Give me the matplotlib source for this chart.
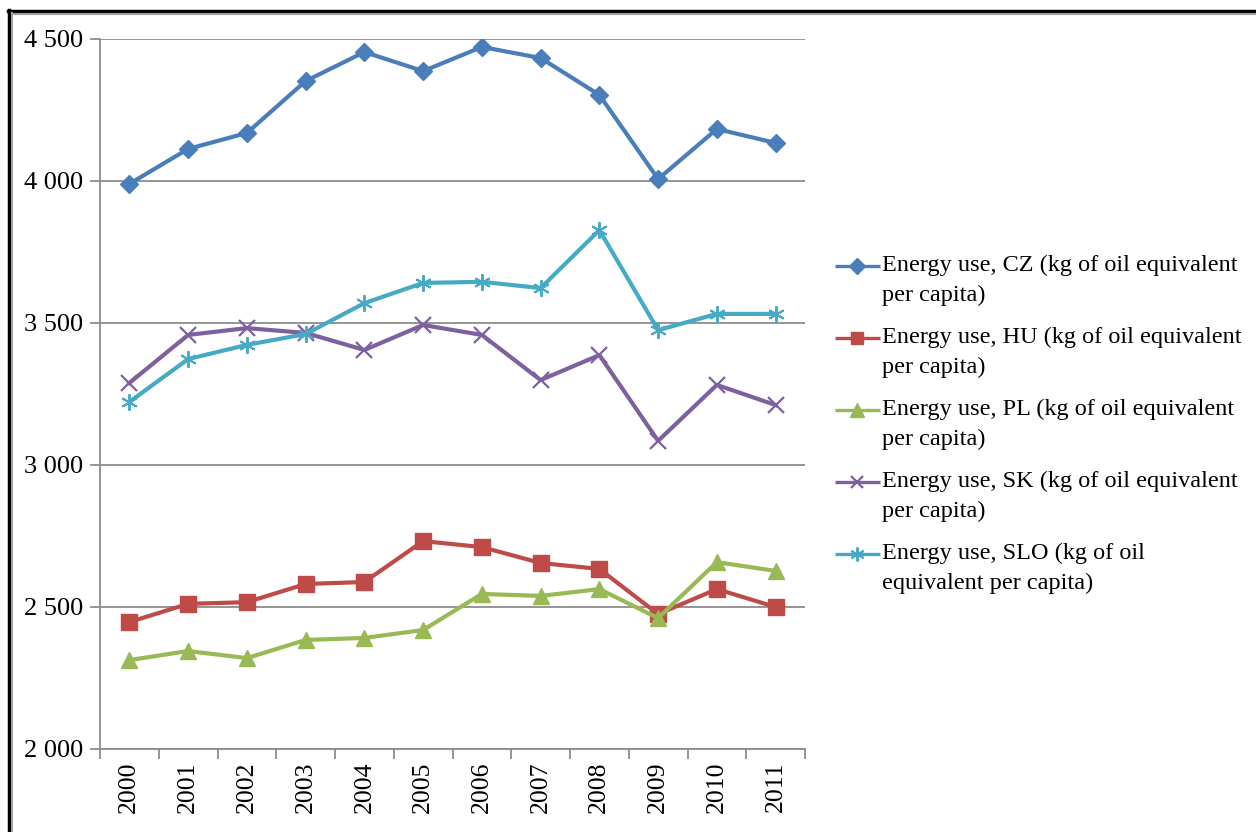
import matplotlib.pyplot as plt
from matplotlib.lines import Line2D
from matplotlib.ticker import FuncFormatter

plt.rcParams['font.family'] = ['Liberation Serif', 'DejaVu Serif']

years = ['2000', '2001', '2002', '2003', '2004', '2005',
         '2006', '2007', '2008', '2009', '2010', '2011']
cz = [3990, 4113, 4169, 4352, 4454, 4387, 4472, 4433, 4303, 4007, 4183, 4134]
hu = [2447, 2511, 2517, 2581, 2588, 2732, 2711, 2655, 2634, 2475, 2563, 2500]
pl = [2313, 2345, 2320, 2384, 2391, 2419, 2546, 2539, 2563, 2461, 2658, 2627]
sk = [3289, 3458, 3482, 3465, 3405, 3493, 3458, 3299, 3387, 3085, 3282, 3211]
slo = [3222, 3373, 3423, 3461, 3570, 3641, 3645, 3623, 3827, 3475, 3532, 3532]

labels = ['Energy use, CZ (kg of oil equivalent\nper capita)',
          'Energy use, HU (kg of oil equivalent\nper capita)',
          'Energy use, PL (kg of oil equivalent\nper capita)',
          'Energy use, SK (kg of oil equivalent\nper capita)',
          'Energy use, SLO (kg of oil\nequivalent per capita)']

W, H = 1256, 832
fig = plt.figure(figsize=(W / 100, H / 100), dpi=100)
ax = fig.add_axes([100 / W, 1 - 749 / H, 705 / W, 710 / H])

x = list(range(len(years)))
lw = 3.0
styles = [
    (cz, dict(color='#4a7ebb', marker='D', ms=9.5, zorder=5)),
    (hu, dict(color='#be4b48', marker='s', ms=11, zorder=4)),
    (pl, dict(color='#98b954', marker='^', ms=12, zorder=5)),
    (sk, dict(color='#7d60a0', marker='x', ms=11, mew=1.6, zorder=4)),
    (slo, dict(color='#46aac5', marker=(6, 2, 0), ms=12, mew=1.4, zorder=4)),
]
for vals, st in styles:
    ax.plot(x, vals, lw=lw, **st)

ax.set_xlim(-0.5, 11.5)
ax.set_ylim(2000, 4500)
ax.set_yticks([2000, 2500, 3000, 3500, 4000, 4500])
ax.yaxis.set_major_formatter(FuncFormatter(lambda v, p: f'{int(v):,}'.replace(',', ' ')))
ax.grid(axis='y', color='#8c8c8c', lw=1.3, zorder=0)

# boundary ticks between categories, labels centred on categories
ax.set_xticks([i - 0.5 for i in range(13)])
ax.set_xticklabels([])
ax.set_xticks(x, minor=True)
ax.set_xticklabels(years, minor=True, rotation=90, fontsize=18.5)
ax.tick_params(axis='x', which='minor', length=0, pad=9)
ax.tick_params(axis='x', which='major', length=7, color='#8c8c8c', width=1.3)
ax.tick_params(axis='y', length=7, color='#8c8c8c', width=1.3, labelsize=19, pad=5)

for s in ['top', 'right']:
    ax.spines[s].set_visible(False)
for s in ['left', 'bottom']:
    ax.spines[s].set_color('#8c8c8c')
    ax.spines[s].set_linewidth(1.3)

# legend: handle aligned with the first line of each label
for i, ((vals, st), lab) in enumerate(zip(styles, labels)):
    yc = 1 - (266 + 72 * i) / H
    fig.add_artist(Line2D([835 / W, 880 / W], [yc, yc], lw=2.4, transform=fig.transFigure,
                          color=st['color'], solid_capstyle='butt'))
    fig.add_artist(Line2D([857.5 / W], [yc], lw=0, transform=fig.transFigure,
                          color=st['color'], marker=st['marker'], ms=st['ms'] * 0.85,
                          mew=st.get('mew', 1)))
    fig.text(882 / W, 1 - (255 + 72 * i) / H, lab, fontsize=17.5, va='top', ha='left',
             linespacing=1.55)

# outer frame, top and left edges
fig.add_artist(Line2D([8 / W, 1], [1 - 11 / H] * 2, color='black', lw=2.5, transform=fig.transFigure))
fig.add_artist(Line2D([11 / W, 1], [1 - 14 / H] * 2, color='#a0a0a0', lw=1.5, transform=fig.transFigure))
fig.add_artist(Line2D([9 / W] * 2, [0, 1 - 10 / H], color='black', lw=2.5, transform=fig.transFigure))
fig.add_artist(Line2D([12 / W] * 2, [0, 1 - 13 / H], color='#a0a0a0', lw=1.5, transform=fig.transFigure))

fig.savefig('out.png', dpi=100)
